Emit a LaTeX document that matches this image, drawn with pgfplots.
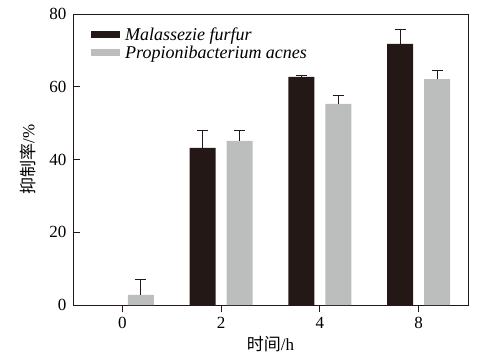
\documentclass[border=0pt]{standalone}
\usepackage{fontspec}
\setmainfont{Liberation Serif}
\newfontfamily\cjk{Noto Sans CJK SC}
\usepackage{pgfplots}
\pgfplotsset{compat=1.18}
\definecolor{darkbar}{HTML}{231815}
\definecolor{lightbar}{HTML}{BCBDBD}
\begin{document}
\begin{tikzpicture}
\path[use as bounding box] (-73pt,-55pt) rectangle (417pt,305pt);
\begin{axis}[
  at={(0pt,0pt)}, anchor=south west,
  scale only axis, width=395pt, height=291pt,
  xmin=-0.5, xmax=3.5, ymin=0, ymax=80,
  xtick={0,1,2,3}, xticklabels={0,2,4,8},
  ytick={0,20,40,60,80},
  tick align=inside, xtick pos=bottom, ytick pos=left,
  major tick length=7pt,
  every tick/.style={darkbar, line width=0.8pt},
  axis line style={darkbar, line width=0.9pt},
  font=\fontsize{17}{20}\selectfont,
  ticklabel style={font=\fontsize{17}{20}\selectfont},
  /pgf/number format/assume math mode=true,
  yticklabel style={xshift=-3pt},
  xticklabel style={yshift=-2pt},
  ybar=11pt, bar width=26pt,
  xlabel={{\cjk 时间}/h},
  ylabel={{\cjk 抑制率}/\%},
  every axis x label/.style={at={(axis description cs:0.5,-0.134)}, anchor=center},
  every axis y label/.style={at={(axis description cs:-0.114,0.5)}, anchor=center, rotate=90},
  legend style={draw=none, fill=none, at={(axis description cs:0.043,0.965)}, anchor=north west, font=\fontsize{18}{21}\selectfont\itshape, row sep=0pt, inner sep=1pt,
    nodes={inner xsep=5pt}},
  legend cell align=left,
  legend image code/.code={\fill (0pt,-3.5pt) rectangle (29pt,3.5pt);},
  error bars/error bar style={darkbar, line width=0.8pt},
  error bars/error mark options={rotate=90, mark size=5.5pt, darkbar, line width=0.8pt},
]
\addplot[fill=darkbar, draw=none, error bars/.cd, y dir=plus, y explicit]
  coordinates {(1,43.2) +- (0,4.8) (2,62.7) +- (0,0.4) (3,71.8) +- (0,4.0)};
\addlegendentry{Malassezie furfur}
\addplot[fill=lightbar, draw=none, error bars/.cd, y dir=plus, y explicit]
  coordinates {(0,2.8) +- (0,4.3) (1,45.1) +- (0,2.9) (2,55.3) +- (0,2.3) (3,62.1) +- (0,2.4)};
\addlegendentry{Propionibacterium acnes}
\end{axis}
\end{tikzpicture}
\end{document}
